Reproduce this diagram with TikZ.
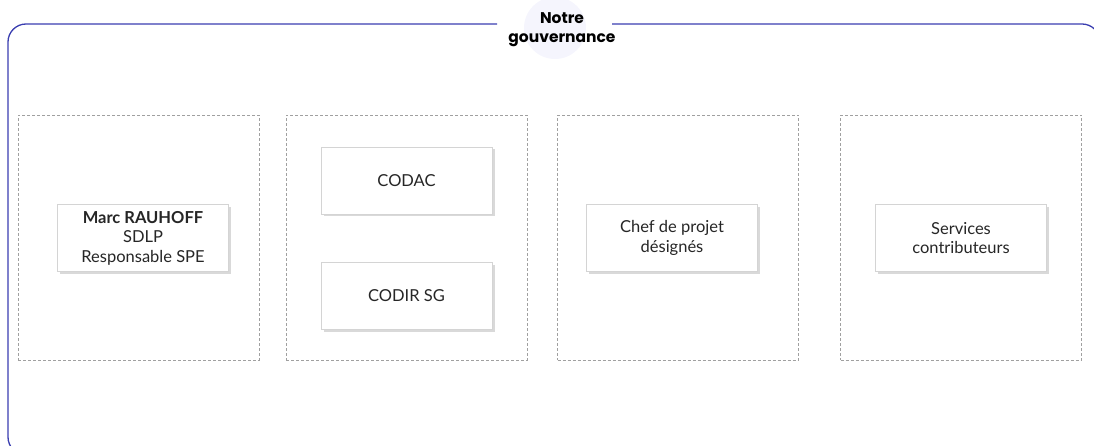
\documentclass[tikz,border=0pt]{standalone}
\usepackage{fontspec}
\setmainfont{Lato}
\newfontfamily\headfont{Poppins}
\usetikzlibrary{shadows}
\definecolor{FrameBlue}{RGB}{58,62,176}
\definecolor{HaloLilac}{RGB}{245,245,253}
\definecolor{PanelGrey}{RGB}{160,160,160}
\definecolor{BoxEdge}{RGB}{212,212,212}
\definecolor{InkGrey}{RGB}{38,38,38}

\begin{document}
\begin{tikzpicture}[
    x=1pt, y=-1pt,
    panel/.style={draw=PanelGrey, densely dashed, line width=0.6pt,
        minimum width=241pt, minimum height=245pt, inner sep=0pt},
    box/.style={draw=BoxEdge, fill=white, line width=0.6pt,
        minimum width=171pt, minimum height=67pt, align=center, text=InkGrey,
        font=\fontsize{16.5}{19.5}\selectfont,
        drop shadow={shadow xshift=2.5pt, shadow yshift=-2.5pt, opacity=0.3}}
]
\useasboundingbox (0,0) rectangle (1094,446);

% outer frame, open at the top for the heading
\begin{scope}
\clip (0,0) rectangle (1094,446);
\fill[HaloLilac] (555,28) circle (31);
\draw[FrameBlue, line width=1.3pt, rounded corners=18pt]
    (497,24) -- (8,24) -- (8,455) -- (1100,455) -- (1100,24) -- (612,24);
\end{scope}
\node[font=\headfont\bfseries\fontsize{15.5}{19}\selectfont, align=center, text=black]
    (titre) at (562,29.5) {Notre\\gouvernance};

% columns
\node[panel] (p1) at (138.5,237.5) {};
\node[panel] (p2) at (406.5,237.5) {};
\node[panel] (p3) at (678,237.5) {};
\node[panel] (p4) at (961,237.5) {};

\node[box] (marc) at (143,238) {\textbf{Marc RAUHOFF}\\SDLP\\Responsable SPE};
\node[box] (codac) at (406.5,180.5) {CODAC};
\node[box] (codir) at (406.5,295.5) {CODIR SG};
\node[box] (chef) at (672,238) {Chef de projet\\désignés};
\node[box] (serv) at (961,238) {Services\\contributeurs};

\end{tikzpicture}
\end{document}
